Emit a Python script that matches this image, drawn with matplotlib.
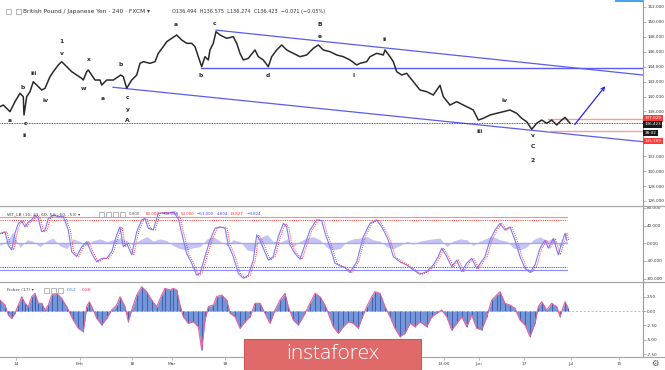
import matplotlib
matplotlib.use("Agg")
import matplotlib.pyplot as plt
from matplotlib.lines import Line2D
from matplotlib.patches import Rectangle

# ---------------- data ----------------
# x positions are chart time positions (0 = left edge, 643 = right price scale)
price_t = [0, 3.3, 10, 15, 20, 23.3, 24, 26.7, 30, 33.3, 36.7, 41.7, 45, 50, 53.3, 58.3, 61.7,
           66.7, 71.7, 76.7, 81.7, 83.3, 86.7, 88.3, 91.7, 95, 100, 101.7, 106.7, 113.3, 118.3,
           120.7, 123.3, 126.7, 131.7, 136.7, 140, 143.3, 150, 155, 158.3, 163.3, 166.7, 171.7,
           176.7, 181.7, 186.7, 191.7, 195, 198.3, 201.7, 205, 208.3, 210, 213.3, 216, 220, 226.7,
           233.3, 236.7, 240, 243.3, 248.3, 255, 258.3, 263.3, 268.3, 271.7, 276.7, 281.7, 286.7,
           293.3, 300, 306.7, 313.3, 318.3, 323.3, 330, 336.7, 343.3, 350, 356.7, 360, 366.7, 370,
           376.7, 383.3, 385, 390, 393.3, 396.7, 401.7, 406.7, 413.3, 420, 426.7, 433.3, 440, 443.3,
           450, 456.7, 463.3, 470, 473.3, 478.3, 483.3, 490, 496.7, 503.3, 510, 516.7, 521.7, 526.7,
           531.7, 536.7, 541.7, 546.7, 551.7, 556.7, 561.7, 565, 570]
price_close = [138.64, 138.86, 137.97, 139.31, 140.43, 139.98, 137.52, 139.98, 140.65, 141.99, 141.54,
               140.87, 141.10, 142.66, 143.33, 144.23, 144.67, 144.00, 143.33, 142.88, 142.44, 142.21,
               143.33, 143.55, 142.88, 142.21, 142.21, 141.54, 142.21, 142.21, 142.66, 142.88, 142.66,
               141.10, 142.21, 142.88, 144.45, 144.67, 144.45, 144.67, 145.79, 146.68, 147.35, 147.80,
               148.25, 147.58, 147.13, 147.13, 146.68, 145.34, 144.00, 145.34, 144.90, 146.24, 147.13,
               148.69, 148.25, 147.80, 148.02, 147.13, 145.79, 144.90, 145.12, 146.24, 145.34, 144.90,
               144.00, 145.34, 146.24, 146.91, 146.24, 145.79, 145.34, 145.57, 146.46, 146.91, 146.24,
               146.01, 145.57, 145.34, 144.90, 144.23, 144.45, 144.67, 145.34, 145.79, 145.57, 146.24,
               145.34, 144.67, 143.33, 142.88, 143.11, 141.99, 140.87, 140.65, 140.20, 141.50, 139.98,
               138.86, 139.31, 138.86, 138.42, 138.19, 136.85, 137.08, 137.52, 137.75, 137.97, 138.19,
               137.75, 137.08, 136.62, 135.61, 136.41, 136.85, 136.41, 136.85, 136.18, 136.85, 137.21,
               136.42]

last_price = 136.423
level_high = 137.029
level_low = 135.389
horizontal_level = 143.85
upper_channel = ([216, 643], [148.90, 142.88])
lower_channel = ([113, 643], [141.24, 133.94])
projection = ([573, 607], [135.95, 141.68])

price_ticks = [126, 128, 130, 132, 138, 140, 142, 144, 146, 148, 150, 152]

wave_labels = [("a", 10, 136.85), ("c", 25, 136.41), ("ii", 25, 134.75), ("b", 22.7, 141.24),
               ("iii", 33.3, 143.11), ("iv", 45.7, 139.53), ("1", 61.7, 147.35), ("v", 61.7, 145.70),
               ("w", 84, 141.10), ("x", 89.3, 144.90), ("a", 102.7, 139.76), ("b", 121, 144.23),
               ("c", 127.7, 139.90), ("y", 127.7, 138.29), ("A", 127.7, 136.72), ("a", 176, 149.72),
               ("b", 201, 142.88), ("c", 214.3, 149.82), ("B", 320, 149.72), ("e", 320, 148.11),
               ("d", 268.3, 142.88), ("i", 354, 142.88), ("ii", 384.3, 147.67), ("iii", 479.3, 135.28),
               ("iv", 505, 139.44), ("v", 532.7, 134.71), ("C", 532.7, 133.27), ("2", 532.7, 131.49)]

wt_t = [0, 5, 8.3, 11.7, 15, 18.3, 21.7, 25, 28.3, 31.7, 35, 38.3, 41.7, 45, 48.3, 53.3, 58.3, 63.3,
        68.3, 71.7, 76.7, 81.7, 86.7, 91.7, 96.7, 101.7, 106.7, 111.7, 116.7, 120, 123.3, 126.7,
        131.7, 136.7, 141.7, 145, 148.3, 153.3, 158.3, 163.3, 168.3, 173.3, 178.3, 181.7, 186.7,
        191.7, 196.7, 200, 205, 210, 215, 220, 225, 228.3, 233.3, 238.3, 243.3, 248.3, 253.3, 256.7,
        260, 263.3, 268.3, 273.3, 278.3, 283.3, 286.7, 290, 295, 300, 310, 316.7, 321.7, 325, 330,
        335, 340, 345, 350, 356.7, 363.3, 370, 376.7, 381.7, 385, 388.3, 393.3, 400, 406.7, 413.3,
        420, 426.7, 433.3, 438.3, 441.7, 446.7, 451.7, 456.7, 461.7, 466.7, 471.7, 476.7, 485, 490,
        495, 500, 505, 510, 515, 520, 525, 530, 535, 540, 545, 548.3, 553.3, 558.3, 561.7, 565, 566.7]
wt1 = [22, 26, -4, -15, 23, 45, 51, 37, 48, 53, 64, 56, 26, 30, 56, 64, 60, 60,
       30, -19, -30, -8, 4, -23, -42, -34, -34, -19, 19, 37, -8, 0,
       -26, 26, 53, 56, 34, 30, 68, 69, 68, 71, 56, 23, -23,
       -45, -72, -68, -30, 7, 34, 37, 34, -4, -30, -68, -79, -72, -38, 19,
       7, -11, -38, -30, 15, 45, 37, -4, -23, -36, 30, 53, 51, 23, -8,
       -45, -51, -55, -66, -42, 15, 45, 53, 37, 23, 7, -30, -42, -49, -60,
       -70, -64, -49, -30, -11, -30, -53, -38, -64, -45, -34, -57, -30, 7,
       30, 45, 30, 37, 7, -30, -57, -66, -49, -11, 7, -11, 11, -26, 0, 23, 7]
wt2_lag = 2.0

wt_hist_t = [0, 7, 13, 20, 27, 33, 40, 47, 53, 60, 67, 73, 80, 87, 93, 100, 107, 113, 120, 127, 133,
             140, 147, 153, 160, 167, 173, 180, 187, 193, 200, 207, 213, 220, 227, 233, 240, 247, 253,
             260, 267, 273, 280, 287, 293, 300, 307, 313, 320, 327, 333, 340, 347, 353, 360, 367, 373,
             380, 387, 393, 400, 407, 413, 420, 427, 433, 440, 447, 453, 460, 467, 473, 480, 487, 493,
             500, 507, 513, 520, 527, 533, 540, 547, 553, 560, 567]
wt_hist = [-5, 5, 25, -10, 8, 5, -8, 6, 12, -6, -12, 10, 4, -5, 6, 10, 4, 8, 12, 6, -4,
           8, 15, 5, 10, 6, -5, -12, -15, -10, -8, 10, 15, 5, -5, 8, 4, -15, -18,
           12, 20, 5, 2, 10, -8, 5, 12, 15, 8, -10, -15, -12, 5, 10, 12, 15, 8,
           5, -8, -12, -5, 5, -2, 5, 8, 10, 12, -8, 5, 10, 8, -5, 5, 12, 15,
           8, 5, -10, -15, -8, 8, 15, 5, 12, -8, 8]
wt_levels_red = [60, 53]
wt_levels_blue = [-60, -53]
wt_ticks = [80, 40, 0, -40, -80]

fisher_t = [0, 5, 8.3, 11.7, 15, 18.3, 21.7, 25, 28.3, 31.7, 35, 38.3, 41.7, 45, 48.3, 51.7, 56.7,
            61.7, 66.7, 70, 73.3, 78.3, 83.3, 86.7, 89.3, 93.3, 96.7, 101.7, 106.7, 111.7, 116.7,
            120, 125, 128.3, 131.7, 136.7, 141.7, 146.7, 151.7, 156.7, 161.7, 165, 170, 173.3, 176.7,
            180, 183.3, 188.3, 193.3, 198.3, 201.7, 205, 208.3, 213.3, 216.7, 221.7, 226.7, 230, 235,
            240, 245, 250, 255, 260, 265, 270, 275, 280, 285, 288.3, 293.3, 298.3, 305, 310, 315,
            320, 325, 328.3, 333.3, 338.3, 343.3, 348.3, 353.3, 358.3, 361.7, 366.7, 371.7, 375, 380,
            385, 390, 395, 400, 405, 410, 415, 420, 426.7, 431.7, 436.7, 441.7, 446.7, 451.7, 456.7,
            461.7, 466.7, 471.7, 476.7, 481.7, 486.7, 491.7, 496.7, 500, 505, 510, 515, 520, 525, 530,
            535, 538.3, 541.7, 546.7, 551.7, 556.7, 560, 565, 568.3]
fisher = [1.9, 1.04, -0.7, -1.27, -0.4, 1.04, 2.49, 1.34, 0.75, 2.49, 3.08, 1.34, 1.34, 0.17, 1.04,
          2.78, 3.08, 2.2, 0.75, -0.4, -1.57, -3.0, -3.6, 0.75, 1.62, 0.17, -1.27, -2.43, -1.27, 0.17,
          1.04, 2.49, 0.75, -1.86, 0.17, 2.78, 4.23, 3.36, 1.9, 0.75, 2.78, 3.94, 3.65, 3.94, 3.65,
          1.04, -0.99, -2.14, -1.86, -2.73, -6.78, -1.57, 0.75, 1.04, 2.49, 2.78, 1.9, -0.4, -0.99,
          -3.0, -1.86, -0.99, 1.34, 1.34, -0.4, -2.14, 0.17, 1.9, 3.08, 0.75, -1.57, -2.43, -0.4, 1.34,
          3.08, 2.49, 1.04, -0.4, -2.73, -3.88, -2.73, -1.86, -2.14, -3.0, -1.27, 0.75, 2.49, 3.36,
          3.08, 0.75, -0.99, -3.0, -4.46, -3.88, -2.14, -2.73, -1.86, -2.73, -0.99, -0.4, 0.17, -0.99,
          -3.3, -2.14, -0.99, -2.73, -0.7, -3.0, -3.3, -0.99, 1.9, 2.78, 3.36, 1.34, 1.04, 0.46,
          -1.57, -2.43, -4.46, -2.14, 0.75, 1.62, 0.17, 1.34, 0.75, -0.99, 1.62, 0.46]
fisher_ticks = [2.5, 0.0, -2.5, -5.0, -7.5]

time_tick_pos = [16, 80, 132, 172, 225, 444, 479, 524, 571, 619]
time_tick_lab = ["14", "Feb", "18", "Mar", "18", "13:00", "Jun", "17", "Jul", "15"]

# ---------------- layout ----------------
W, H = 665, 370
fig = plt.figure(figsize=(W / 100, H / 100), dpi=100)
fig.patch.set_facecolor("white")


def fx(px):
    return px / W


def fy(py):
    return 1 - py / H


AXR = 643
ax_p = fig.add_axes([0, fy(206), fx(AXR), 206 / H])
ax_w = fig.add_axes([0, fy(281), fx(AXR), 75 / H])
ax_f = fig.add_axes([0, fy(357), fx(AXR), 76 / H])

for ax in (ax_p, ax_w, ax_f):
    ax.set_xlim(0, AXR)
    for s in ("top", "left", "bottom"):
        ax.spines[s].set_visible(False)
    ax.spines["right"].set_color("#9a9a9a")
    ax.spines["right"].set_linewidth(0.8)
    ax.yaxis.tick_right()
    ax.tick_params(axis="y", labelsize=3.0, colors="#333333", length=2, width=0.5, pad=1,
                   color="#999999")
    ax.tick_params(axis="x", bottom=False, labelbottom=False)
    ax.set_facecolor("white")

# ---------------- price panel ----------------
ax_p.set_ylim(125.324, 152.938)
ax_p.set_yticks(price_ticks)
ax_p.set_yticklabels([f"{v:.3f}" for v in price_ticks])

BLUE = "#5b5bf2"
ax_p.plot(*upper_channel, color=BLUE, lw=0.9)
ax_p.plot(*lower_channel, color=BLUE, lw=0.9)
ax_p.plot([201, AXR], [horizontal_level, horizontal_level], color=BLUE, lw=1.0)
ax_p.plot([0, AXR], [last_price, last_price], color="#222222", lw=0.6, ls=(0, (1, 1)))
ax_p.plot([548, AXR], [level_high, level_high], color="#ff9a9a", lw=1.0)
ax_p.plot([548, AXR], [level_low, level_low], color="#ff9a9a", lw=1.0)
ax_p.plot(price_t, price_close, color="#2a2a2a", lw=1.1, zorder=3)
ax_p.annotate("", xy=(projection[0][1], projection[1][1]), xytext=(projection[0][0], projection[1][0]),
              arrowprops=dict(arrowstyle="->", color="#2525ee", lw=0.9, mutation_scale=6))

for lab, xx, yy in wave_labels:
    ax_p.text(xx, yy, lab, fontsize=4.3, color="#2a2a2a", ha="center", va="center",
              fontweight="bold", zorder=5)

ytr = ax_p.get_yaxis_transform()
boxes = [(137.10, "137.029", "#ff3a3a"), (136.25, "136.423", "#1a1a1a"),
         (135.11, "38:02", "#1a1a1a"), (134.04, "135.389", "#ff3a3a")]
for yy, txt, col in boxes:
    ax_p.text(1.002, yy, txt, transform=ytr, fontsize=3.0, color="white", ha="left", va="center",
              clip_on=False, zorder=10,
              bbox=dict(boxstyle="square,pad=0.35", fc=col, ec="none"))

# ---------------- WT panel ----------------
ax_w.set_ylim(-85.2, 84.3)
ax_w.set_yticks(wt_ticks)
ax_w.set_yticklabels([f"{v:.3f}" for v in wt_ticks])
ax_w.fill_between(wt_hist_t, 0, wt_hist, color="#c4c4f7", lw=0, zorder=1)
ax_w.plot([0, 567], [0, 0], color="#a8a8ee", lw=1.0, zorder=1)
ax_w.plot([0, 567], [wt_levels_red[0]] * 2, color="#ff8c8c", lw=0.8)
ax_w.plot([0, 567], [wt_levels_red[1]] * 2, color="#ff4a4a", lw=0.8, ls=(0, (1, 1)))
ax_w.plot([0, 567], [wt_levels_blue[0]] * 2, color="#8c8cff", lw=0.8)
ax_w.plot([0, 567], [wt_levels_blue[1]] * 2, color="#4a4aff", lw=0.8, ls=(0, (1, 1)))
ax_w.plot(wt_t, wt1, color="#7a7aff", lw=0.8, zorder=3)
ax_w.plot([t + wt2_lag for t in wt_t], wt1, color="#ff3030", lw=0.7, ls=(0, (1, 1.2)), zorder=4)

# ---------------- Fisher panel ----------------
ax_f.set_ylim(-8.0, 5.22)
ax_f.set_yticks(fisher_ticks)
ax_f.set_yticklabels([f"{v:.2f}" for v in fisher_ticks])
ax_f.plot([0, AXR], [0, 0], color="#ff9ab0", lw=0.7, ls=(0, (2, 2)), zorder=1)
ax_f.fill_between(fisher_t, 0, fisher, color="#7596d6", lw=0, interpolate=True, zorder=2)
ax_f.vlines(fisher_t, 0, fisher, color="#2b4aa8", lw=0.5, zorder=3)
ax_f.plot(fisher_t, fisher, color="#e8609a", lw=0.8, zorder=4)
ax_f.set_xticks(time_tick_pos)
ax_f.set_xticklabels(time_tick_lab)
ax_f.tick_params(axis="x", bottom=True, labelbottom=True, labelsize=3.2, colors="#444444",
                 length=2, width=0.5, pad=1.5, color="#999999")

# ---------------- separators & header texts ----------------
for py in (206, 281.5, 357):
    fig.add_artist(Line2D([0, 1], [fy(py), fy(py)], color="#a8a8a8", lw=0.9))
fig.add_artist(Rectangle((fx(615), fy(2)), fx(28), 2 / H, color="#4aa3f0", lw=0))


def ftext(px, py, s, **kw):
    fig.text(fx(px), fy(py), s, va="center", ha="left", **kw)


def icon(px, py, size=5):
    fig.add_artist(Rectangle((fx(px), fy(py + size / 2)), size / W, size / H, fc="white",
                             ec="#9a9a9a", lw=0.5))


icon(6, 11, 5)
icon(16, 11, 5)
ftext(23, 11, "British Pound / Japanese Yen · 240 · FXCM ▾", fontsize=4.2, color="#333333")
ftext(172, 11, "O136.494  H136.575  L136.274  C136.423  −0.071 (−0.05%)", fontsize=3.6,
      color="#333333")

ftext(7, 214, "WT_LB (10, 21, 60, 53, -60, -53) ▾", fontsize=3.2, color="#444444")
for k in range(4):
    icon(99 + 7 * k, 214, 5)
wt_header = [(129, "0.000", "#555555"), (146, "60.000", "#ff3030"), (162, "−60.000", "#4a4aff"),
             (181, "53.000", "#ff3030"), (197, "−53.000", "#4a4aff"), (217, "4.004", "#4a4aff"),
             (230, "13.827", "#ff3030"), (247, "−9.824", "#4a4aff")]
for px, s, c in wt_header:
    ftext(px, 214, s, fontsize=2.9, color=c)

ftext(7, 290, "Fisher (17) ▾", fontsize=3.2, color="#444444")
for k in range(3):
    icon(44 + 7 * k, 290, 5)
ftext(67, 290, "0.52", fontsize=3.2, color="#3b6fd0")
ftext(82, 290, "0.88", fontsize=3.2, color="#f0407a")

fig.text(fx(655), fy(363), "⚙", fontsize=6, color="#555555", ha="center", va="center")

# ---------------- logo ----------------
fig.add_artist(Rectangle((fx(244), 0), fx(177), (H - 339) / H, fc="#e06a6a", ec="#c85a5a", lw=0.8,
                         zorder=5))
fig.text(fx(333), fy(354), "instaforex", fontsize=15, color="white", ha="center", va="center",
         family=["Open Sans", "DejaVu Sans"], fontweight="light", zorder=6)

fig.savefig("out.png", dpi=100)
